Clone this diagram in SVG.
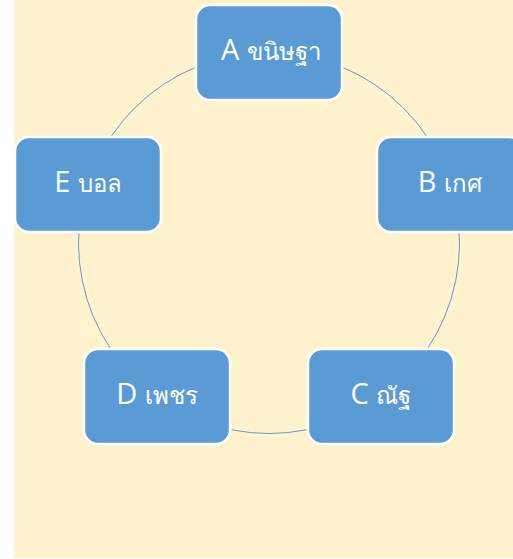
<svg xmlns="http://www.w3.org/2000/svg" width="513" height="559" viewBox="0 0 513 559">
<style>
.node rect{fill:#5B9BD5;stroke:#FFFFFF;stroke-width:2.5}
.node text{fill:#FFFFFF;font-family:"Open Sans","Noto Sans","Liberation Sans",sans-serif;font-size:29px;text-anchor:middle}
.th{font-size:24px;font-weight:300}
.conn{fill:none;stroke:#5B9BD5;stroke-width:1}
</style>
<rect x="0" y="0" width="513" height="559" fill="#FFFFFF"/>
<rect x="14" y="0" width="499" height="558" fill="#FFF2CC"/>
<g id="connectors">
<circle class="conn" cx="269" cy="243" r="190.5"/>
</g>
<g id="A" class="node"><rect x="196" y="5" width="146" height="95" rx="14"/><text x="271" y="60">A <tspan class="th">ขนิษฐา</tspan></text></g>
<g id="B" class="node"><rect x="377" y="137" width="146" height="95" rx="14"/><text x="450" y="192">B <tspan class="th">เกศ</tspan></text></g>
<g id="C" class="node"><rect x="308" y="349" width="146" height="95" rx="14"/><text x="381" y="404">C <tspan class="th">ณัฐ</tspan></text></g>
<g id="D" class="node"><rect x="84" y="349" width="146" height="95" rx="14"/><text x="157" y="404">D <tspan class="th">เพชร</tspan></text></g>
<g id="E" class="node"><rect x="15" y="137" width="146" height="95" rx="14"/><text x="88" y="192">E <tspan class="th">บอล</tspan></text></g>
</svg>
